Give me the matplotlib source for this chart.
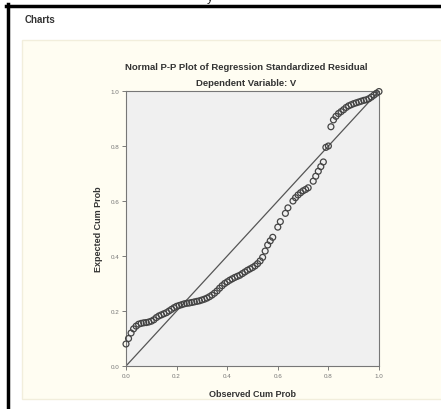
import matplotlib.pyplot as plt
from matplotlib.patches import Rectangle
from matplotlib.lines import Line2D

plt.rcParams['font.family'] = ['Liberation Sans', 'DejaVu Sans']

# observed cumulative probability (x) and expected cumulative probability (y)
obs_cum = [0.00, 0.01, 0.02, 0.03, 0.04, 0.05, 0.06, 0.07, 0.08, 0.09,
           0.10, 0.11, 0.12, 0.13, 0.14, 0.15, 0.16, 0.17, 0.18, 0.19,
           0.20, 0.21, 0.22, 0.23, 0.24, 0.25, 0.26, 0.27, 0.28, 0.29,
           0.30, 0.31, 0.32, 0.33, 0.34, 0.35, 0.36, 0.37, 0.38, 0.39,
           0.40, 0.41, 0.42, 0.43, 0.44, 0.45, 0.46, 0.47, 0.48, 0.49,
           0.50, 0.51, 0.52, 0.53, 0.54, 0.55, 0.56, 0.57, 0.58, 0.60,
           0.61, 0.63, 0.64, 0.66, 0.67, 0.68, 0.69, 0.70, 0.71, 0.72,
           0.74, 0.75, 0.76, 0.77, 0.78, 0.79, 0.80, 0.81, 0.82, 0.83,
           0.84, 0.85, 0.86, 0.87, 0.88, 0.89, 0.90, 0.91, 0.92, 0.93,
           0.94, 0.95, 0.96, 0.97, 0.98, 0.99, 1.00]
exp_cum = [0.080, 0.100, 0.120, 0.135, 0.145, 0.152, 0.155, 0.157, 0.158, 0.160,
           0.163, 0.168, 0.176, 0.182, 0.186, 0.190, 0.194, 0.200, 0.206, 0.212,
           0.217, 0.220, 0.223, 0.226, 0.228, 0.229, 0.231, 0.233, 0.235, 0.237,
           0.240, 0.243, 0.247, 0.252, 0.258, 0.265, 0.273, 0.283, 0.292, 0.300,
           0.306, 0.312, 0.317, 0.322, 0.326, 0.330, 0.336, 0.342, 0.348, 0.353,
           0.358, 0.364, 0.372, 0.382, 0.395, 0.418, 0.440, 0.455, 0.468, 0.505,
           0.525, 0.555, 0.575, 0.600, 0.612, 0.622, 0.630, 0.637, 0.642, 0.648,
           0.672, 0.690, 0.708, 0.725, 0.742, 0.795, 0.800, 0.870, 0.895, 0.908,
           0.918, 0.925, 0.932, 0.940, 0.946, 0.950, 0.954, 0.957, 0.960, 0.963,
           0.966, 0.968, 0.972, 0.978, 0.985, 0.992, 0.998]
ticks = [0.0, 0.2, 0.4, 0.6, 0.8, 1.0]
tick_labels = ["0.0", "0.2", "0.4", "0.6", "0.8", "1.0"]

fig = plt.figure(figsize=(4.41, 4.10), dpi=100)
fig.patch.set_facecolor("white")

# cream output panel + black frame lines (behind the axes)
fig.patches.append(Rectangle((22 / 441, 1 - 400 / 410), 1, (400 - 41) / 410,
                             transform=fig.transFigure, facecolor="#fffdf2",
                             edgecolor="#f2eedc", linewidth=1.0, zorder=-5))
fig.lines.append(Line2D([7.5 / 441, 7.5 / 441], [0, 1 - 5 / 410], transform=fig.transFigure,
                        color="black", linewidth=2.5, zorder=-4))
fig.lines.append(Line2D([6 / 441, 1], [1 - 6.5 / 410, 1 - 6.5 / 410], transform=fig.transFigure,
                        color="black", linewidth=2.5, zorder=-4))

fig.text(25 / 441, 1 - 20 / 410, "Charts", fontsize=7, fontweight="bold",
         color="#333333", va="center", ha="left")
fig.text(210 / 441, 1 + 2 / 410, "y", fontsize=9, va="center", ha="center", color="#222222")

ax = fig.add_axes([126 / 441, 1 - 367 / 410, 253 / 441, 275 / 410])
ax.set_facecolor("#f0f0f0")

ax.plot([0, 1], [0, 1], color="#555555", linewidth=0.9, zorder=2)
ax.scatter(obs_cum, exp_cum, s=18, facecolors="none", edgecolors="#444444",
           linewidths=0.9, zorder=3, clip_on=False)

ax.set_xlim(0, 1)
ax.set_ylim(0, 1)
ax.set_xticks(ticks)
ax.set_yticks(ticks)
ax.set_xticklabels(tick_labels)
ax.set_yticklabels(tick_labels)
ax.tick_params(labelsize=4.5, labelcolor="#777777", length=3, width=0.6,
               color="#666666", pad=2)
for s in ax.spines.values():
    s.set_color("#777777")
    s.set_linewidth(0.8)

ax.set_xlabel("Observed Cum Prob", fontsize=6.5, fontweight="bold", color="#333333", labelpad=8)
ax.set_ylabel("Expected Cum Prob", fontsize=6.5, fontweight="bold", color="#333333", labelpad=5)

fig.text(246 / 441, 1 - 68 / 410, "Normal P-P Plot of Regression Standardized Residual",
         fontsize=6.8, fontweight="bold", color="#333333", ha="center", va="center")
fig.text(246 / 441, 1 - 84 / 410, "Dependent Variable: V",
         fontsize=6.8, fontweight="bold", color="#333333", ha="center", va="center")

fig.savefig("out.png", dpi=100)
